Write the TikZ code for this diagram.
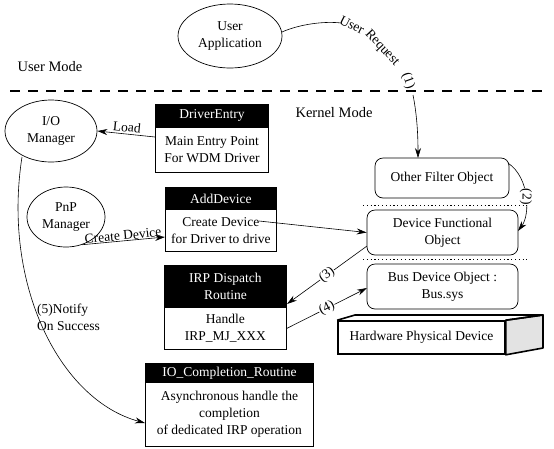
\documentclass[tikz,border=0pt]{standalone}
\usepackage{fontspec}
\setmainfont{Liberation Serif}
\usetikzlibrary{shapes.geometric,arrows.meta}
\begin{document}
\begin{tikzpicture}[x=1pt,y=-1pt,
  every node/.style={font=\fontsize{13.5}{17}\selectfont},
  hdr/.style={draw, line width=0.8pt, fill=black, text=white, anchor=north west, inner sep=0pt, align=center},
  bdy/.style={draw, line width=0.8pt, fill=white, anchor=north west, inner sep=0pt, align=center},
  ell/.style={draw, ellipse, line width=0.7pt, inner sep=0pt, align=center},
  rbox/.style={draw, rounded corners=8pt, line width=0.7pt, inner sep=0pt, align=center},
  arr/.style={line width=0.6pt, -{Stealth[length=10pt,width=6pt]}},
  conn/.style={line width=0.6pt},
  lbl/.style={inner sep=1pt},
  big/.style={font=\fontsize{14.5}{17}\selectfont}
]
\useasboundingbox (0,0) rectangle (554,448);

% user mode part
\node[ell, minimum width=104pt, minimum height=64pt] (ua) at (230,36) {User\\Application};
\node[lbl, big] (um) at (50,67) {User Mode};
\coordinate (dl) at (10,91);
\coordinate (dr) at (545,91);
\draw[line width=1.8pt, dash pattern=on 10pt off 8pt] (dl) -- (dr);
\node[lbl, big] (km) at (334,113) {Kernel Mode};

% left ellipses
\node[ell, minimum width=92pt, minimum height=62pt] (io) at (51,131) {I/O\\Manager};
\node[ell, minimum width=78pt, minimum height=60pt] (pnp) at (66,217) {PnP\\Manager};

% DriverEntry
\node[hdr, minimum width=113pt, minimum height=23pt] (deh) at (155,104) {DriverEntry};
\node[bdy, minimum width=113pt, minimum height=45pt] (deb) at (155,127) {Main Entry Point\\For WDM Driver};

% AddDevice
\node[hdr, minimum width=111pt, minimum height=22pt] (adh) at (165,187) {AddDevice};
\node[bdy, minimum width=111pt, minimum height=42pt] (adb) at (165,209) {Create Device\\for Driver to drive};

% IRP Dispatch
\node[hdr, minimum width=122pt, minimum height=42pt] (irph) at (164,265) {IRP Dispatch\\Routine};
\node[bdy, minimum width=122pt, minimum height=42pt] (irpb) at (164,307) {Handle\\IRP\_MJ\_XXX};

% IO completion
\node[hdr, minimum width=168pt, minimum height=19pt] (ioch) at (145,363) {IO\_Completion\_Routine};
\node[bdy, minimum width=168pt, minimum height=64pt] (iocb) at (145,382) {Asynchronous handle the\\completion\\of dedicated IRP operation};

% driver stack
\node[rbox, minimum width=134pt, minimum height=40pt] (ofo) at (442,178) {Other Filter Object};
\node[rbox, minimum width=151pt, minimum height=45pt] (dfo) at (442.5,232.5) {Device Functional\\Object};
\node[rbox, minimum width=151pt, minimum height=45pt] (bdo) at (442.5,286.5) {Bus Device Object :\\Bus.sys};
\coordinate (s1l) at (363,205);
\coordinate (s1r) at (527,205);
\coordinate (s2l) at (363,259);
\coordinate (s2r) at (527,259);
\draw[line width=1pt, dash pattern=on 1.2pt off 2.6pt] (s1l) -- (s1r);
\draw[line width=1pt, dash pattern=on 1.2pt off 2.6pt] (s2l) -- (s2r);

% hardware box
\node[draw, line width=1.6pt, minimum width=167pt, minimum height=33pt, inner sep=0pt] (hw) at (421.5,337.5) {Hardware Physical Device};
\coordinate (hwa) at (355,315);
\coordinate (hwb) at (543,315);
\coordinate (hwc) at (543,348);
\draw[line width=1.6pt, fill=gray!22, line join=round] (hw.north east) -- (hwb) -- (hwc) -- (hw.south east) -- cycle;
\draw[line width=1.6pt, line join=round] (hw.north west) -- (hwa) -- (hwb) -- (hw.north east);

% user request (1)
\coordinate (ur0) at (282,32);
\coordinate (ur1) at (341,23);
\coordinate (ur2) at (413,95);
\coordinate (urE) at (418,158);
\draw[conn] (ur0) .. controls (300,24) and (325,21) .. (ur1);
\node[lbl, inner sep=0pt, rotate=-27] (urw1) at (352,25) {User};
\node[lbl, inner sep=0pt, rotate=-47] (urw2) at (382,48) {Request};
\node[lbl, inner sep=0pt, rotate=-70] (urw3) at (408,81) {(1)};
\draw[arr] (ur2) .. controls (417,115) and (418,135) .. (urE);

% (2)
\coordinate (c2s) at (508,163);
\coordinate (c2e) at (518,231);
\draw[arr] (c2s) .. controls (530,178) and (530,215) .. (c2e)
  node[pos=0.5, fill=white, inner sep=0.5pt, rotate=-90] {(2)};

% load
\coordinate (lds) at (155,137);
\draw[arr] (lds) -- (io.east) node[midway, above, sloped, inner sep=2pt] {Load};

% create device
\coordinate (cd0) at (pnp.-60);
\coordinate (cd1) at (165,237);
\draw[arr] (cd0) -- (cd1) node[midway, above, sloped, inner sep=0.5pt] {Create Device};
\coordinate (cd2) at (259,221);
\draw[arr] (cd2) -- (dfo.west);

% (3) and (4)
\coordinate (t3s) at (367,246);
\coordinate (t3e) at (287,304);
\draw[arr] (t3s) -- (t3e) node[midway, sloped, fill=white, inner sep=0.5pt] {(3)};
\coordinate (t4e) at (367,288);
\draw[arr] (irpb.east) -- (t4e) node[midway, sloped, fill=white, inner sep=0.5pt] {(4)};

% (5)
\coordinate (n5s) at (22,157);
\coordinate (n5e) at (145,423);
\draw[arr] (n5s) .. controls (2,285) and (60,400) .. (n5e);
\node[lbl, align=left, anchor=west] (n5l) at (36,317) {(5)Notify\\On Success};
\end{tikzpicture}
\end{document}
